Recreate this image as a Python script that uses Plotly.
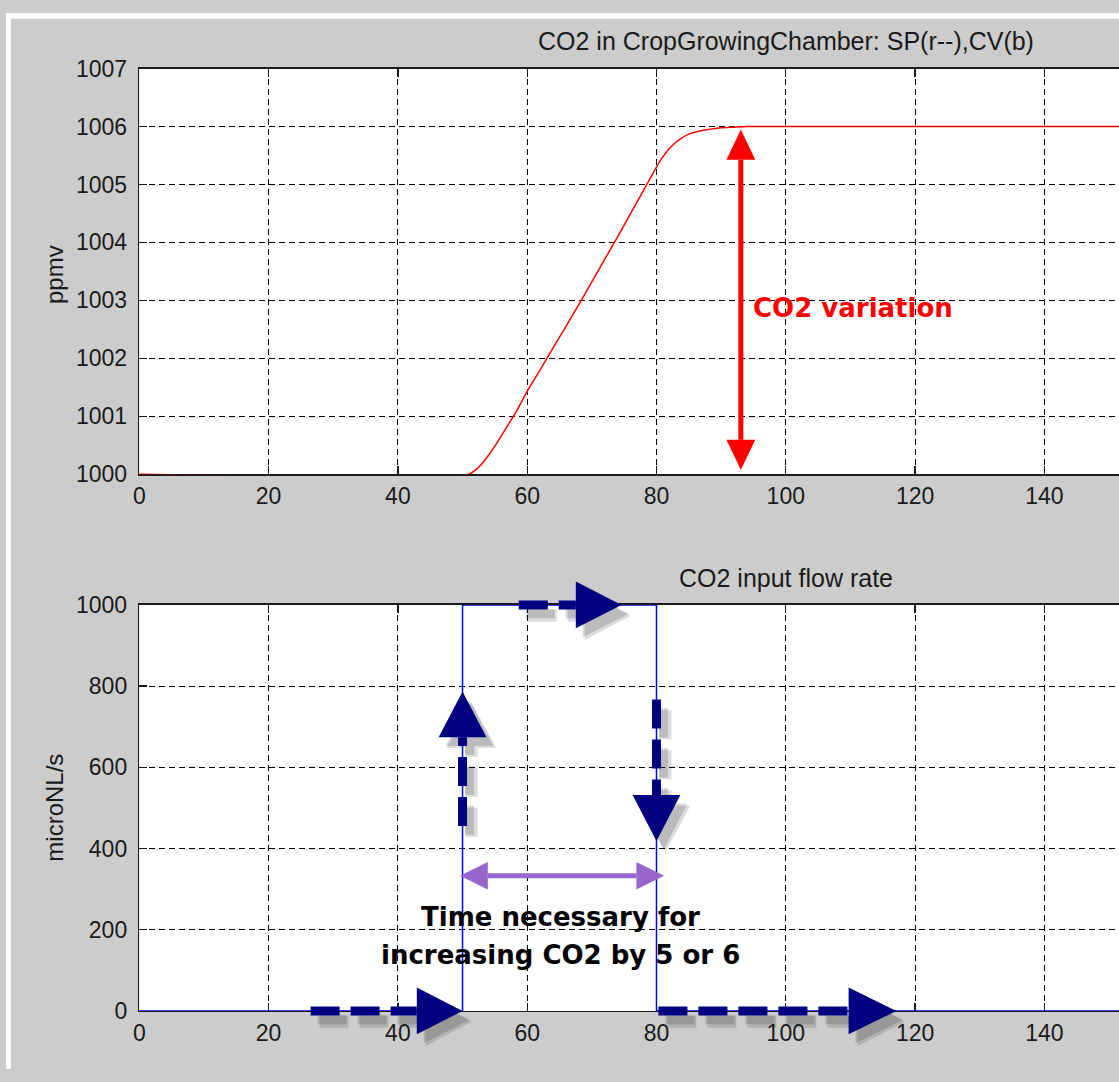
import plotly.graph_objects as go

# ---------------- data ----------------
co2_time = [0, 51.0, 52.0, 53.0, 54.3, 55.5, 57.0, 58.5, 60.0, 62.0, 64.0, 66.0, 68.0,
            70.0, 72.0, 74.0, 76.0, 78.0, 80.0, 81.0, 82.0, 83.0, 84.0, 85.0, 86.5,
            88.0, 90.0, 92.0, 94.0, 200]
co2_ppmv = [1000, 1000, 1000.07, 1000.18, 1000.37, 1000.57, 1000.84, 1001.12, 1001.43,
            1001.8, 1002.18, 1002.55, 1002.93, 1003.32, 1003.71, 1004.1, 1004.5, 1004.9,
            1005.3, 1005.48, 1005.62, 1005.73, 1005.81, 1005.87, 1005.92, 1005.95,
            1005.98, 1005.99, 1006.0, 1006.0]
flow_time = [0, 50, 50, 80, 80, 200]
flow_rate = [0, 0, 1000, 1000, 0, 0]

x_ticks = [0, 20, 40, 60, 80, 100, 120, 140]
top_ticks = [1000, 1001, 1002, 1003, 1004, 1005, 1006, 1007]
bot_ticks = [0, 200, 400, 600, 800, 1000]

top_title = "CO2 in CropGrowingChamber: SP(r--),CV(b)"
bot_title = "CO2 input flow rate"

# ---------------- layout geometry (pixels) ----------------
W, H = 1119, 1082
PX_L = 134.0
X_MAX = 151.54
XPX = (W - PX_L) / X_MAX
TOP = dict(y0=1000.0, y1=1007.0, p_top=57.0, p_bot=472.5)
BOT = dict(y0=0.0, y1=1000.0, p_top=606.5, p_bot=1022.5)


def px_x(x):
    return PX_L + x * XPX


def px_y(ax, y):
    return ax["p_bot"] - (y - ax["y0"]) * (ax["p_bot"] - ax["p_top"]) / (ax["y1"] - ax["y0"])


def pap(px, py):
    return px / W, 1 - py / H


def dom(ax):
    return [1 - ax["p_bot"] / H, 1 - ax["p_top"] / H]


FONT = "Liberation Sans, Arial, Helvetica, sans-serif"
BOLD = "DejaVu Sans, Liberation Sans, Arial, sans-serif"

fig = go.Figure()
fig.add_trace(go.Scatter(x=co2_time, y=co2_ppmv, mode="lines",
                         line=dict(color="#ff0000", width=1.5, shape="spline", smoothing=0.6),
                         xaxis="x", yaxis="y", showlegend=False, hoverinfo="skip"))
fig.add_trace(go.Scatter(x=flow_time, y=flow_rate, mode="lines",
                         line=dict(color="#0000ff", width=1.5),
                         xaxis="x2", yaxis="y2", showlegend=False, hoverinfo="skip"))

axis_common = dict(
    showline=True, linecolor="#1a1a1a", linewidth=1.5,
    ticks="inside", ticklen=8, tickwidth=1.3, tickcolor="#1a1a1a",
    showgrid=True, gridcolor="#000000", gridwidth=1, griddash="6px,4px",
    zeroline=False, layer="below traces",
    tickfont=dict(family=FONT, size=23, color="#1a1a1a"),
)

xdom = [PX_L / W, 1.0]
fig.update_layout(
    width=W, height=H,
    margin=dict(l=0, r=0, t=0, b=0),
    paper_bgcolor="#cccccc",
    plot_bgcolor="#ffffff",
    xaxis=dict(axis_common, domain=xdom, range=[0, X_MAX], tickvals=x_ticks,
               anchor="y", mirror="ticks", ticklabelstandoff=1),
    yaxis=dict(axis_common, domain=dom(TOP), range=[TOP["y0"], TOP["y1"]],
               tickvals=top_ticks, anchor="x", ticklabelstandoff=6),
    xaxis2=dict(axis_common, domain=xdom, range=[0, X_MAX], tickvals=x_ticks,
                anchor="y2", mirror="ticks", ticklabelstandoff=1),
    yaxis2=dict(axis_common, domain=dom(BOT), range=[BOT["y0"], BOT["y1"]],
                tickvals=bot_ticks, anchor="x2", ticklabelstandoff=6),
)

shapes = []
# white frame strips (top and left) of the original screenshot
shapes.append(dict(type="rect", xref="paper", yref="paper", x0=0, x1=1, y0=1 - 6 / H, y1=1,
                   fillcolor="#ffffff", line=dict(width=0), layer="above"))
shapes.append(dict(type="rect", xref="paper", yref="paper", x0=0, x1=5 / W, y0=0, y1=1,
                   fillcolor="#ffffff", line=dict(width=0), layer="above"))


def arrow(ax, tail, tip, color, head_len, head_half, shaft_w, dash="solid",
          double=False, offset=(0, 0)):
    """Arrow from data point tail to data point tip; sizes in pixels."""
    ox, oy = offset
    tx, ty = px_x(tail[0]) + ox, px_y(ax, tail[1]) + oy
    hx, hy = px_x(tip[0]) + ox, px_y(ax, tip[1]) + oy
    L = ((hx - tx) ** 2 + (hy - ty) ** 2) ** 0.5
    ux, uy = (hx - tx) / L, (hy - ty) / L
    nx, ny = -uy, ux
    out = []

    def head(px0, py0, dx, dy):
        bx, by = px0 - dx * head_len, py0 - dy * head_len
        pts = [(px0, py0), (bx + nx * head_half, by + ny * head_half),
               (bx - nx * head_half, by - ny * head_half)]
        pp = [pap(a, b) for a, b in pts]
        path = "M {} {} L {} {} L {} {} Z".format(pp[0][0], pp[0][1], pp[1][0], pp[1][1],
                                                  pp[2][0], pp[2][1])
        out.append(dict(type="path", xref="paper", yref="paper", path=path,
                        fillcolor=color, line=dict(width=0), layer="above"))
        return bx, by

    ex, ey = head(hx, hy, ux, uy)
    sx, sy = tx, ty
    if double:
        sx, sy = head(tx, ty, -ux, -uy)
    a0, b0 = pap(sx, sy)
    a1, b1 = pap(ex, ey)
    out.insert(0, dict(type="line", xref="paper", yref="paper", x0=a0, y0=b0, x1=a1, y1=b1,
                       line=dict(color=color, width=shaft_w, dash=dash), layer="above"))
    return out


NAVY = "#000080"
navy_arrows = [
    (BOT, (26.5, 0), (50.0, 0), 46),
    (BOT, (50.0, 455.5), (50.0, 787.0), 47),
    (BOT, (58.7, 1000), (74.6, 1000), 46),
    (BOT, (80.0, 767.0), (80.0, 418.7), 47),
    (BOT, (80.3, 0), (117.1, 0), 48),
]
# soft drop shadows
for ax, tail, tip, hl in navy_arrows:
    shapes += arrow(ax, tail, tip, "rgba(40,40,40,0.16)", hl, 25, 12, dash="29px,11px",
                    offset=(9, 11))
    shapes += arrow(ax, tail, tip, "rgba(40,40,40,0.18)", hl, 24, 9, dash="29px,11px",
                    offset=(7, 9))
for ax, tail, tip, hl in navy_arrows:
    shapes += arrow(ax, tail, tip, NAVY, hl, 24, 9, dash="29px,11px")

# red CO2 variation double arrow
shapes += arrow(TOP, (93.05, 1000.07), (93.05, 1005.95), "#ff0000", 31, 14.5, 5, double=True)
# purple time double arrow
shapes += arrow(BOT, (49.6, 333), (81.2, 333), "#9966cc", 28, 14, 5, double=True)

fig.update_layout(shapes=shapes)

annotations = []
# titles
tx, ty = pap(px_x(100), 29)
annotations.append(dict(text=top_title, x=tx, y=ty, xref="paper", yref="paper",
                        showarrow=False, xanchor="center", yanchor="middle",
                        font=dict(family=FONT, size=25, color="#1a1a1a")))
tx, ty = pap(px_x(100), 579)
annotations.append(dict(text=bot_title, x=tx, y=ty, xref="paper", yref="paper",
                        showarrow=False, xanchor="center", yanchor="middle",
                        font=dict(family=FONT, size=25, color="#1a1a1a")))
# y-axis labels
tx, ty = pap(49, (TOP["p_top"] + TOP["p_bot"]) / 2 + 3)
annotations.append(dict(text="ppmv", x=tx, y=ty, xref="paper", yref="paper",
                        showarrow=False, textangle=-90, xanchor="center", yanchor="middle",
                        font=dict(family=FONT, size=24, color="#1a1a1a")))
tx, ty = pap(49, (BOT["p_top"] + BOT["p_bot"]) / 2)
annotations.append(dict(text="microNL/s", x=tx, y=ty, xref="paper", yref="paper",
                        showarrow=False, textangle=-90, xanchor="center", yanchor="middle",
                        font=dict(family=FONT, size=24, color="#1a1a1a")))
# text annotations
tx, ty = pap(px_x(94.6), px_y(TOP, 1002.86))
annotations.append(dict(text="<b>CO2 variation</b>", x=tx, y=ty, xref="paper", yref="paper",
                        showarrow=False, xanchor="left", yanchor="middle",
                        font=dict(family=BOLD, size=26, color="#ff0000")))
tx, ty = pap(557, 926)
annotations.append(dict(text="<b>Time necessary for</b>", x=tx, y=ty, xref="paper",
                        yref="paper", showarrow=False, xanchor="center", yanchor="middle",
                        font=dict(family=BOLD, size=26, color="#000000")))
tx, ty = pap(557, 965)
annotations.append(dict(text="<b>increasing CO2 by 5 or 6</b>", x=tx, y=ty, xref="paper",
                        yref="paper", showarrow=False, xanchor="center", yanchor="middle",
                        font=dict(family=BOLD, size=26, color="#000000")))
fig.update_layout(annotations=annotations)

fig.write_html("out.html",
               config={"displayModeBar": False, "staticPlot": True},
               post_script=(
                   "document.body.style.margin='0';"
                   "document.body.style.overflow='hidden';"
                   "document.documentElement.style.overflow='hidden';"
                   "var d=document.getElementById('{plot_id}');"
                   "d.style.position='fixed';d.style.left='0px';d.style.top='0px';"
               ))
